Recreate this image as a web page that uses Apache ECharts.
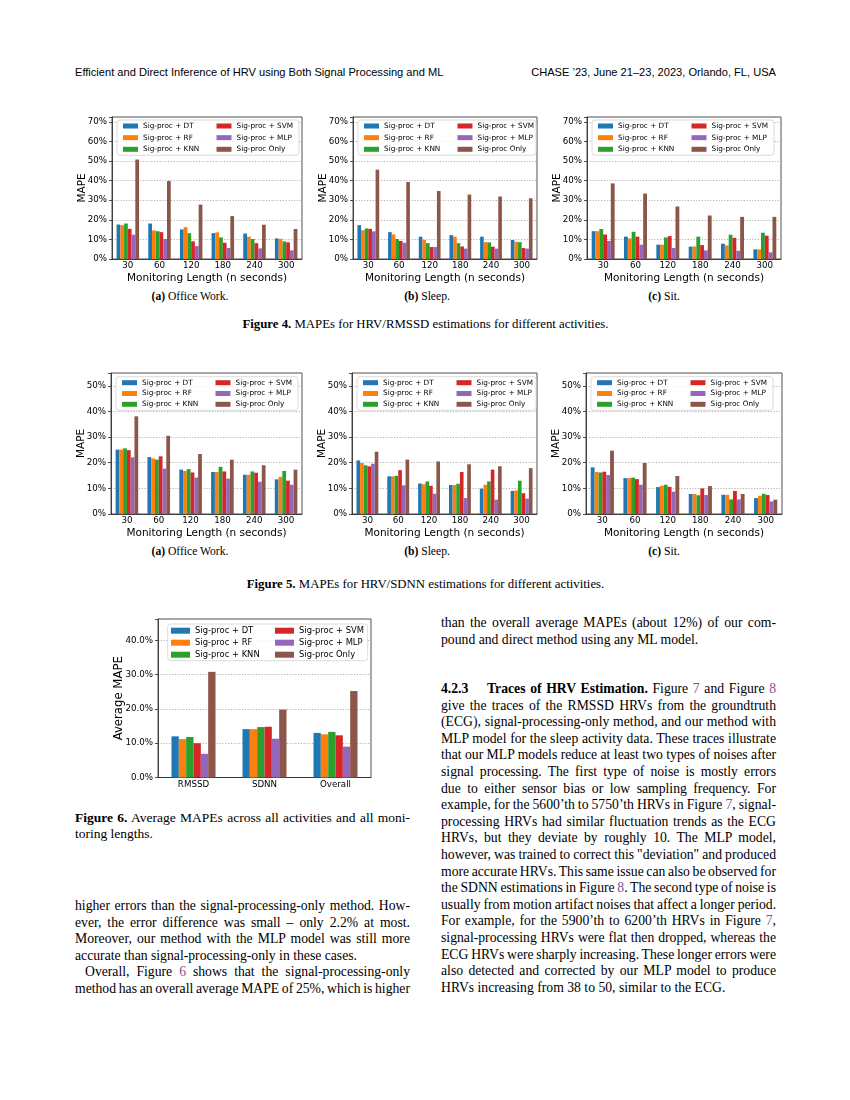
<!DOCTYPE html>
<html>
<head>
<meta charset="utf-8">
<title>MAPE figures</title>
<script src="https://cdn.jsdelivr.net/npm/echarts@6.0.0/dist/echarts.min.js"></script>
<style>
  html, body { margin: 0; padding: 0; background: #fff; }
  #page { position: relative; width: 850px; height: 1100px; overflow: hidden;
          font-family: 'Liberation Serif', 'Times New Roman', serif; color: #000; }
  .chart { position: absolute; }
  .hdr { position: absolute; top: 66px; font-family: 'Liberation Sans', Arial, sans-serif;
         font-size: 11.1px; white-space: nowrap; }
  .sub { position: absolute; width: 200px; text-align: center; font-size: 11.6px; white-space: nowrap; }
  .cap { position: absolute; left: 75px; width: 701px; text-align: center; font-size: 12.8px; white-space: nowrap; }
  .col { position: absolute; width: 335px; font-size: 13.7px; line-height: 16.6px; }
  .ln { white-space: nowrap; text-align: justify; text-align-last: justify; }
  .ln.last { text-align: left; text-align-last: left; }
  .ref { color: #8a4b9c; }
</style>
</head>
<body>
<div id="page">
  <div class="hdr" style="left:75px">Efficient and Direct Inference of HRV using Both Signal Processing and ML</div>
  <div class="hdr" style="right:74px">CHASE ’23, June 21–23, 2023, Orlando, FL, USA</div>

  <div class="chart" id="c4a" style="left:70px;top:110px;width:240px;height:180px"></div>
  <div class="chart" id="c4b" style="left:310px;top:110px;width:240px;height:180px"></div>
  <div class="chart" id="c4c" style="left:545px;top:110px;width:240px;height:180px"></div>
  <div class="sub" style="left:90px;top:290px"><b>(a)</b> Office Work.</div>
  <div class="sub" style="left:327px;top:290px"><b>(b)</b> Sleep.</div>
  <div class="sub" style="left:564px;top:290px"><b>(c)</b> Sit.</div>
  <div class="cap" style="top:317px"><b>Figure 4.</b> MAPEs for HRV/RMSSD estimations for different activities.</div>

  <div class="chart" id="c5a" style="left:70px;top:370px;width:240px;height:175px"></div>
  <div class="chart" id="c5b" style="left:310px;top:370px;width:240px;height:175px"></div>
  <div class="chart" id="c5c" style="left:545px;top:370px;width:240px;height:175px"></div>
  <div class="sub" style="left:90px;top:545px"><b>(a)</b> Office Work.</div>
  <div class="sub" style="left:327px;top:545px"><b>(b)</b> Sleep.</div>
  <div class="sub" style="left:564px;top:545px"><b>(c)</b> Sit.</div>
  <div class="cap" style="top:577px"><b>Figure 5.</b> MAPEs for HRV/SDNN estimations for different activities.</div>

  <div class="chart" id="c6" style="left:95px;top:610px;width:300px;height:190px"></div>
  <div class="col" style="left:75px;top:810px;font-size:13.5px;line-height:16px">
    <div class="ln"><b>Figure 6.</b> Average MAPEs across all activities and all moni-</div>
    <div class="ln last">toring lengths.</div>
  </div>

  <div class="col" style="left:75px;top:898px">
    <div class="ln">higher errors than the signal-processing-only method. How-</div>
    <div class="ln">ever, the error difference was small – only 2.2% at most.</div>
    <div class="ln">Moreover, our method with the MLP model was still more</div>
    <div class="ln last">accurate than signal-processing-only in these cases.</div>
    <div class="ln" style="padding-left:10px">Overall, Figure <span class="ref">6</span> shows that the signal-processing-only</div>
    <div class="ln">method has an overall average MAPE of 25%, which is higher</div>
  </div>

  <div class="col" style="left:441px;top:615px">
    <div class="ln">than the overall average MAPEs (about 12%) of our com-</div>
    <div class="ln last">pound and direct method using any ML model.</div>
  </div>

  <div class="col" style="left:441px;top:681px">
    <div class="ln"><b>4.2.3&nbsp;&nbsp;&nbsp;&nbsp;Traces of HRV Estimation.</b> Figure <span class="ref">7</span> and Figure <span class="ref">8</span></div>
    <div class="ln">give the traces of the RMSSD HRVs from the groundtruth</div>
    <div class="ln">(ECG), signal-processing-only method, and our method with</div>
    <div class="ln">MLP model for the sleep activity data. These traces illustrate</div>
    <div class="ln">that our MLP models reduce at least two types of noises after</div>
    <div class="ln">signal processing. The first type of noise is mostly errors</div>
    <div class="ln">due to either sensor bias or low sampling frequency. For</div>
    <div class="ln">example, for the 5600’th to 5750’th HRVs in Figure <span class="ref">7</span>, signal-</div>
    <div class="ln">processing HRVs had similar fluctuation trends as the ECG</div>
    <div class="ln">HRVs, but they deviate by roughly 10. The MLP model,</div>
    <div class="ln">however, was trained to correct this "deviation" and produced</div>
    <div class="ln">more accurate HRVs. This same issue can also be observed for</div>
    <div class="ln">the SDNN estimations in Figure <span class="ref">8</span>. The second type of noise is</div>
    <div class="ln">usually from motion artifact noises that affect a longer period.</div>
    <div class="ln">For example, for the 5900’th to 6200’th HRVs in Figure <span class="ref">7</span>,</div>
    <div class="ln">signal-processing HRVs were flat then dropped, whereas the</div>
    <div class="ln">ECG HRVs were sharply increasing. These longer errors were</div>
    <div class="ln">also detected and corrected by our MLP model to produce</div>
    <div class="ln last">HRVs increasing from 38 to 50, similar to the ECG.</div>
  </div>
</div>

<script>
// categories
var lengths = ['30', '60', '120', '180', '240', '300'];
var metrics = ['RMSSD', 'SDNN', 'Overall'];
var methods = ['Sig-proc + DT', 'Sig-proc + RF', 'Sig-proc + KNN',
               'Sig-proc + SVM', 'Sig-proc + MLP', 'Sig-proc Only'];
var colors = ['#1f77b4', '#ff7f0e', '#2ca02c', '#d62728', '#9467bd', '#8c564b'];

// Figure 4: RMSSD MAPE (%), one row per method, one value per monitoring length
var rmssdOffice = [
  [17.6, 18.1, 15.1, 13.2, 13.0, 10.5],
  [17.3, 14.6, 16.3, 13.6, 11.4, 10.3],
  [18.1, 14.2, 13.2, 11.0, 10.2, 9.0],
  [15.4, 13.7, 9.0, 8.3, 8.1, 8.5],
  [12.4, 10.2, 6.6, 5.6, 5.4, 4.4],
  [50.8, 39.8, 27.8, 21.9, 17.5, 15.3]
];
var rmssdSleep = [
  [17.3, 13.7, 11.4, 12.2, 11.4, 9.7],
  [14.7, 12.5, 9.7, 11.4, 8.6, 8.8],
  [15.6, 10.2, 8.1, 8.1, 8.5, 8.6],
  [15.4, 9.2, 6.1, 6.4, 6.3, 5.6],
  [14.1, 8.3, 6.1, 5.3, 5.3, 5.3],
  [45.6, 39.3, 34.7, 32.9, 31.9, 31.0]
];
var rmssdSit = [
  [14.2, 11.4, 7.3, 6.3, 7.8, 4.9],
  [14.2, 10.5, 7.3, 6.4, 6.9, 4.9],
  [15.3, 13.9, 11.0, 11.4, 12.4, 13.4],
  [12.5, 11.4, 11.7, 7.1, 10.8, 11.9],
  [9.2, 7.3, 5.6, 4.4, 4.2, 3.4],
  [38.6, 33.4, 26.8, 22.2, 21.5, 21.5]
];

// Figure 5: SDNN MAPE (%)
var sdnnOffice = [
  [25.1, 22.2, 17.3, 16.4, 15.3, 13.5],
  [25.1, 21.7, 16.8, 16.4, 15.3, 14.5],
  [25.6, 21.2, 17.5, 18.4, 16.6, 16.8],
  [24.9, 22.5, 16.2, 16.6, 16.1, 13.0],
  [22.1, 17.7, 14.2, 13.8, 12.6, 11.4],
  [38.1, 30.5, 23.4, 21.2, 19.0, 17.3]
];
var sdnnSleep = [
  [20.9, 14.7, 11.9, 11.3, 9.9, 9.0],
  [19.9, 14.7, 11.6, 11.3, 11.4, 9.2],
  [19.0, 14.9, 12.7, 11.8, 12.7, 13.0],
  [18.6, 17.1, 11.0, 16.4, 17.3, 8.1],
  [19.6, 11.2, 7.9, 6.2, 5.6, 6.0],
  [24.3, 21.2, 20.5, 19.4, 18.6, 17.9]
];
var sdnnSit = [
  [18.2, 14.0, 10.5, 7.8, 7.5, 6.2],
  [16.4, 14.0, 11.0, 7.8, 7.5, 7.1],
  [16.2, 14.2, 11.4, 7.3, 5.7, 7.9],
  [16.5, 13.6, 10.6, 10.0, 9.0, 7.4],
  [15.2, 11.4, 8.7, 7.4, 5.7, 4.9],
  [24.7, 19.9, 14.8, 10.9, 7.8, 5.6]
];

// Figure 6: average MAPE (%) per metric
var avgMape = [
  [12.0, 14.1, 13.0],
  [11.2, 14.1, 12.6],
  [11.8, 14.7, 13.3],
  [10.0, 14.8, 12.3],
  [6.9, 11.3, 9.0],
  [30.8, 19.8, 25.2]
];

function barChart(id, cats, rows, o) {
  var chart = echarts.init(document.getElementById(id));
  var axisCol = '#262626';
  var series = methods.map(function (m, i) {
    return {
      name: m, type: 'bar', data: rows[i],
      barGap: '0%', barCategoryGap: o.catGap,
      itemStyle: { color: colors[i] },
      emphasis: { disabled: true }
    };
  });
  // legend in two columns of three, like matplotlib ncol=2
  var legendCol = function (names, x) {
    return {
      data: names, orient: 'vertical', selectedMode: false,
      left: x, top: o.rowTop - o.legLine / 2,
      icon: 'rect', itemWidth: o.iconW, itemHeight: o.iconH,
      itemGap: o.rowPitch - o.legLine, padding: 0,
      textStyle: { fontSize: o.legFont, lineHeight: o.legLine,
                   color: '#000', fontFamily: 'DejaVu Sans' }
    };
  };
  chart.setOption({
    animation: false,
    textStyle: { fontFamily: 'DejaVu Sans' },
    grid: {
      left: o.left, top: o.top, width: o.width, height: o.height,
      containLabel: false, outerBoundsMode: 'none',
      show: true, borderColor: axisCol, borderWidth: 0.8
    },
    graphic: [{
      type: 'rect', z: 3,
      shape: { x: o.frameX, y: o.frameY, width: o.frameW, height: o.frameH, r: 3 },
      style: { fill: 'rgba(255,255,255,0.85)', stroke: '#d2d2d2', lineWidth: 0.8 }
    }],
    legend: [legendCol(methods.slice(0, 3), o.col1), legendCol(methods.slice(3), o.col2)],
    xAxis: {
      type: 'category', data: cats,
      name: o.xName, nameLocation: 'middle', nameGap: 14, nameMoveOverlap: false,
      nameTextStyle: { fontSize: 10.5, color: '#000', fontFamily: 'DejaVu Sans' },
      axisLine: { lineStyle: { color: axisCol, width: 0.8 } },
      axisTick: { alignWithLabel: true, length: 3, lineStyle: { color: axisCol, width: 0.8 } },
      axisLabel: { fontSize: 8.7, color: '#000', margin: 2.5, fontFamily: 'DejaVu Sans' },
      splitLine: { show: false }
    },
    yAxis: {
      type: 'value', min: 0, max: o.max, interval: 10,
      name: o.yName, nameLocation: 'middle', nameGap: o.yNameGap, nameMoveOverlap: false,
      nameTextStyle: { fontSize: o.yNameFont, color: '#000', fontFamily: 'DejaVu Sans' },
      axisLine: { show: true, lineStyle: { color: axisCol, width: 0.8 } },
      axisTick: { show: true, length: 3, lineStyle: { color: axisCol, width: 0.8 } },
      axisLabel: {
        fontSize: 8.7, color: '#000', margin: 5, fontFamily: 'DejaVu Sans',
        formatter: function (v) {
          if (v % 10 !== 0) return '';
          return o.decimals ? v.toFixed(1) + '%' : v + '%';
        }
      },
      splitLine: { show: true, lineStyle: { color: '#a0a0a0', width: 0.8, type: [1.2, 1.6] } }
    },
    series: series
  });
  window.addEventListener('resize', function () { chart.resize(); });
}

function lengthChart(id, rows, gridLeft, gridTop, gridW, gridH, ymax, rowTop, rowPitch) {
  var frameX = gridLeft + 5;
  barChart(id, lengths, rows, {
    left: gridLeft, top: gridTop, width: gridW, height: gridH, max: ymax,
    catGap: '29%', xName: 'Monitoring Length (n seconds)',
    yName: 'MAPE', yNameGap: 24, yNameFont: 10.5,
    frameX: frameX, frameY: rowTop - 6, frameW: Math.min(182, gridW - 6), frameH: rowPitch * 2 + 12,
    col1: frameX + 6, col2: frameX + 99.5, rowTop: rowTop, rowPitch: rowPitch,
    iconW: 15, iconH: 5, legFont: 7.3, legLine: 9
  });
}

lengthChart('c4a', rmssdOffice, 42, 7, 190, 142, 72.5, 16, 11.65);
lengthChart('c4b', rmssdSleep, 43, 7, 184, 142, 72.5, 16, 11.65);
lengthChart('c4c', rmssdSit, 42, 7, 194, 142, 72.5, 16, 11.65);
lengthChart('c5a', sdnnOffice, 41, 3, 191, 141, 55, 12.7, 10.8);
lengthChart('c5b', sdnnSleep, 42, 3, 185, 141, 55, 12.7, 10.8);
lengthChart('c5c', sdnnSit, 41, 3, 196, 141, 55, 12.7, 10.8);

barChart('c6', metrics, avgMape, {
  left: 63, top: 9, width: 213, height: 158.5, max: 46.2, decimals: true,
  catGap: '38%', xName: '', yName: 'Average MAPE', yNameGap: 33, yNameFont: 11.7,
  frameX: 72.7, frameY: 14, frameW: 200, frameH: 36.7,
  col1: 76, col2: 180, rowTop: 20.7, rowPitch: 12,
  iconW: 19, iconH: 6, legFont: 8.4, legLine: 10
});

// squeeze any text line that is wider than its column
document.querySelectorAll('.ln').forEach(function (el) {
  var ws = 0, ls = 0;
  while (el.scrollWidth > el.clientWidth + 0.5 && ws > -2) {
    ws -= 0.25;
    el.style.wordSpacing = ws + 'px';
  }
  while (el.scrollWidth > el.clientWidth + 0.5 && ls > -0.5) {
    ls -= 0.05;
    el.style.letterSpacing = ls + 'px';
  }
});
</script>
</body>
</html>
